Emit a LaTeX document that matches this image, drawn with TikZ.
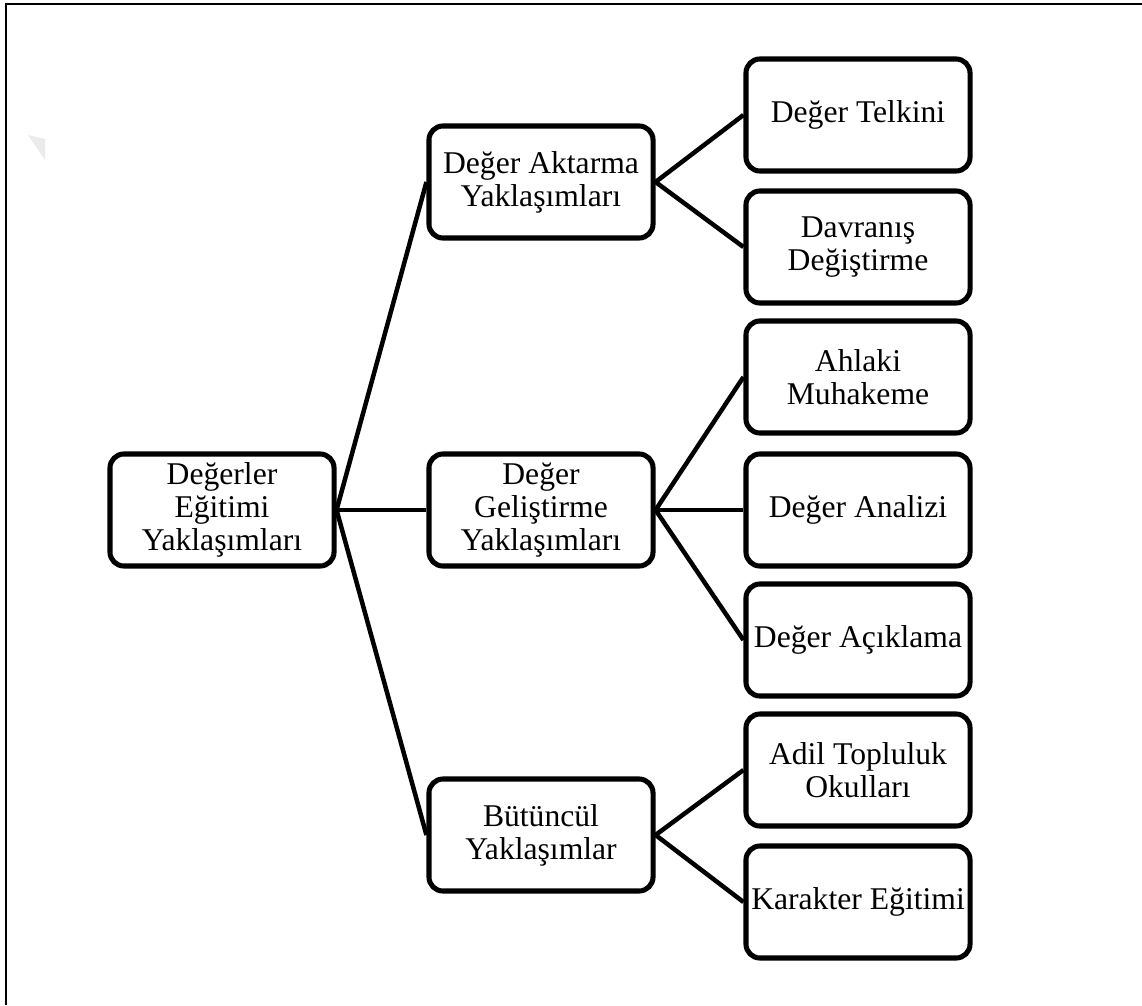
\documentclass[tikz,border=0pt]{standalone}
\usepackage{fontspec}
\setmainfont{Liberation Serif}
\usetikzlibrary{positioning}

\begin{document}
\begin{tikzpicture}[
        x=0.025cm, y=-0.025cm,
        box/.style={rectangle, draw, line width=3.6pt, rounded corners=0.35cm,
                    minimum width=5.6cm, minimum height=2.8cm, align=center,
                    inner sep=0pt, font=\fontsize{22.5pt}{23.5pt}\selectfont},
        link/.style={line width=3.2pt}
      ]

      \useasboundingbox (0,0) rectangle (1142,1005);

      % Frame (top and left only)
      \draw[line width=1.5pt] (6,1005) -- (6,4) -- (1142,4);
      \fill[black!8] (28,135) -- (45,139) -- (45,160) -- cycle;

      % Root
      \node[box] (root) at (222,510) {Değerler\\Eğitimi\\Yaklaşımları};

      % Second level
      \node[box] (aktarma) at (541,182) {Değer Aktarma\\Yaklaşımları};
      \node[box] (gelistirme) at (541,510) {Değer\\Geliştirme\\Yaklaşımları};
      \node[box] (butuncul) at (541,835) {Bütüncül\\Yaklaşımlar};

      % Third level
      \node[box] (telkin) at (858,115) {Değer Telkini};
      \node[box] (davranis) at (858,247) {Davranış\\Değiştirme};
      \node[box] (ahlaki) at (858,377) {Ahlaki\\Muhakeme};
      \node[box] (analiz) at (858,510) {Değer Analizi};
      \node[box] (aciklama) at (858,640) {Değer Açıklama};
      \node[box] (adil) at (858,770) {Adil Topluluk\\Okulları};
      \node[box] (karakter) at (858,902) {Karakter Eğitimi};

      % Connections
      \draw[link] (root.east) -- (aktarma.west);
      \draw[link] (root.east) -- (gelistirme.west);
      \draw[link] (root.east) -- (butuncul.west);
      \draw[link] (aktarma.east) -- (telkin.west);
      \draw[link] (aktarma.east) -- (davranis.west);
      \draw[link] (gelistirme.east) -- (ahlaki.west);
      \draw[link] (gelistirme.east) -- (analiz.west);
      \draw[link] (gelistirme.east) -- (aciklama.west);
      \draw[link] (butuncul.east) -- (adil.west);
      \draw[link] (butuncul.east) -- (karakter.west);

      \end{tikzpicture}
\end{document}
